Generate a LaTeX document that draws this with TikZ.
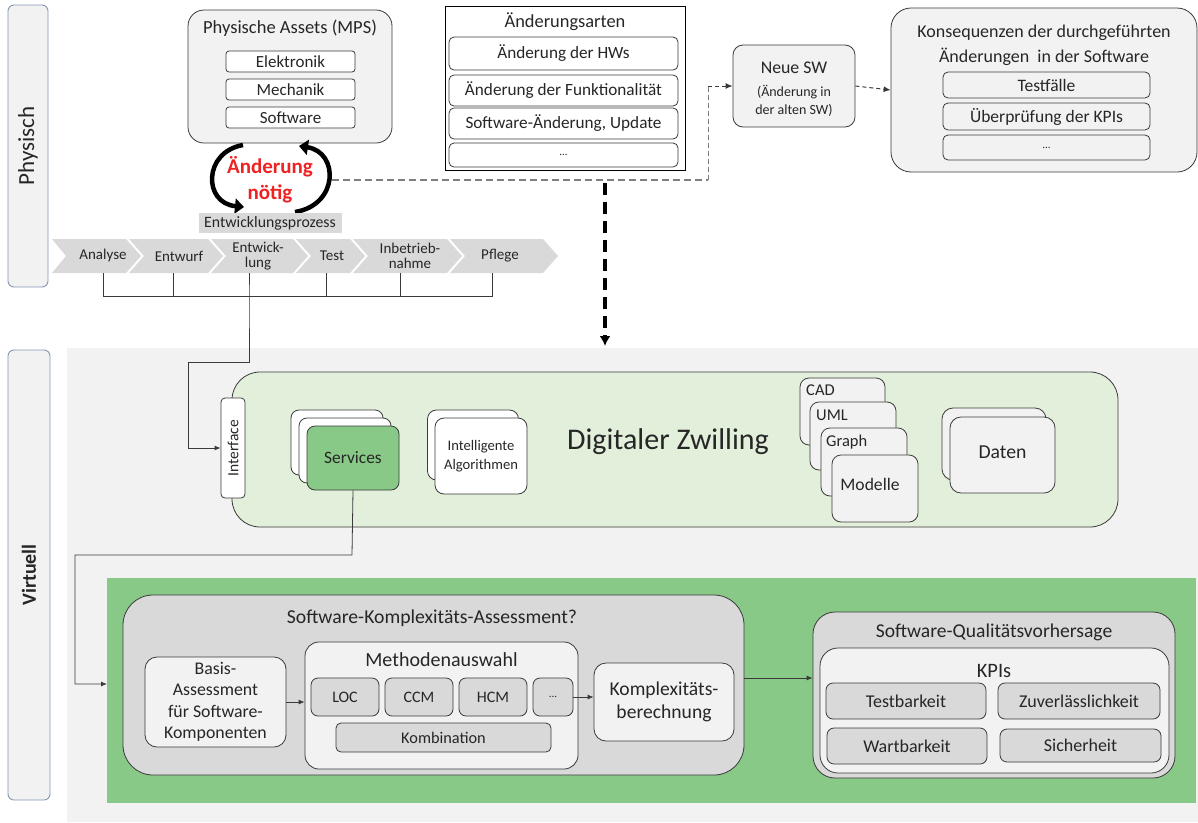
\documentclass[tikz,border=0pt]{standalone}
\usepackage{fontspec}
\setmainfont{Carlito}
\usetikzlibrary{arrows.meta,calc}
\definecolor{lg}{HTML}{F2F2F2}
\definecolor{mg}{HTML}{D9D9D9}
\definecolor{twin}{HTML}{E2EFDA}
\definecolor{grn}{RGB}{136,201,136}
\definecolor{bord}{HTML}{3A3A3A}
\definecolor{sideb}{HTML}{8497B0}
\definecolor{txt}{HTML}{262626}
\definecolor{redt}{HTML}{EE2222}
\definecolor{dgray}{HTML}{7F7F7F}
\newcommand{\fsz}[2]{\fontsize{#1}{#2}\selectfont}
\tikzset{
  box/.style={draw=bord, line width=0.8pt, rounded corners=#1, inner sep=0pt, align=center, text=txt},
  box/.default=4pt,
  side/.style={draw=sideb, line width=0.9pt, fill=lg, rounded corners=6pt, inner sep=0pt},
  lbl/.style={text=txt, inner sep=0pt, align=center},
  conn/.style={draw=bord, line width=0.8pt},
  arr/.style={conn, -{Latex[length=6pt,width=5pt]}},
  cyc/.style={line width=4.5pt, black, -{Triangle[length=9pt,width=15pt]}},
  chevfill/.style={fill=mg},
}
\begin{document}
\begin{tikzpicture}[x=1pt,y=-1pt]
\useasboundingbox (0,0) rectangle (1198,822);
% backgrounds
\fill[lg] (67,348) rectangle (1198,822);
\fill[grn] (107,578) rectangle (1196,803);
% side labels
\node[side, minimum width=40pt, minimum height=282pt] (phys) at (28,146) {};
\node[lbl, rotate=90, font=\fsz{23}{25}] at (phys) {Physisch};
\node[side, minimum width=42pt, minimum height=450pt] (virt) at (29,575) {};
\node[lbl, rotate=90, font=\fsz{20}{22}\bfseries] at (virt) {Virtuell};

% Physische Assets
\node[box=16pt, fill=lg, minimum width=204pt, minimum height=133pt] (pa) at (290,76.5) {};
\node[lbl, font=\fsz{18.5}{20}] (pat) at (290,28) {Physische Assets (MPS)};
\node[box=3pt, fill=white, minimum width=129pt, minimum height=21pt, font=\fsz{17}{18}] (elek) at (290.5,61.5) {Elektronik};
\node[box=3pt, fill=white, minimum width=129pt, minimum height=21pt, font=\fsz{17}{18}] (mech) at (290.5,89.5) {Mechanik};
\node[box=3pt, fill=white, minimum width=129pt, minimum height=21pt, font=\fsz{17}{18}] (soft) at (290.5,117.5) {Software};

% Aenderung noetig
\node[lbl, text=redt, font=\fsz{21}{23}\bfseries] (aen) at (270,180) {Änderung\\[3pt]nötig};
\coordinate (c1a) at (243,145);
\coordinate (c1b) at (244,207);
\coordinate (c2a) at (295,212);
\coordinate (c2b) at (299,146);
\draw[cyc] (c1a) .. controls (203,152) and (203,203) .. (c1b);
\draw[cyc] (c2a) .. controls (339,205) and (339,152) .. (c2b);
\node[lbl, fill=mg, minimum width=143pt, minimum height=20pt, font=\fsz{15.8}{17}] (ep) at (270,223) {Entwicklungsprozess};

% chevrons
\fill[chevfill] (52,239) -- (126,239) -- ++(15,17) -- ++(-15,17) -- (52,273) -- ++(14,-17) -- cycle;
\fill[chevfill] (129,239) -- (208,239) -- ++(15,17) -- ++(-15,17) -- (129,273) -- ++(15,-17) -- cycle;
\fill[chevfill] (211,239) -- (293,239) -- ++(15,17) -- ++(-15,17) -- (211,273) -- ++(15,-17) -- cycle;
\fill[chevfill] (296,239) -- (350,239) -- ++(15,17) -- ++(-15,17) -- (296,273) -- ++(15,-17) -- cycle;
\fill[chevfill] (353,239) -- (447,239) -- ++(15,17) -- ++(-15,17) -- (353,273) -- ++(15,-17) -- cycle;
\fill[chevfill] (450,239) -- (543,239) -- ++(15,17) -- ++(-15,17) -- (450,273) -- ++(15,-17) -- cycle;
\node[lbl, font=\fsz{15}{15}] (ch1) at (103,255) {Analyse};
\node[lbl, font=\fsz{15}{15}] (ch2) at (179,256) {Entwurf};
\node[lbl, font=\fsz{15}{15}] (ch3) at (258,256) {Entwick-\\lung};
\node[lbl, font=\fsz{15}{15}] (ch4) at (332,256) {Test};
\node[lbl, font=\fsz{15}{15}] (ch5) at (410,256) {Inbetrieb-\\nahme};
\node[lbl, font=\fsz{15}{15}] (ch6) at (500,256) {Pflege};
\coordinate (b1) at (103,273);
\coordinate (b2) at (173,273);
\coordinate (b3) at (249,273);
\coordinate (b4) at (326,273);
\coordinate (b5) at (400,273);
\coordinate (b6) at (492,273);
\coordinate (h1) at (103,296);
\coordinate (h6) at (492,296);
\draw[conn] (b1) -- (h1) -- (h6) -- (b6);
\draw[conn] (b2) -- (b2 |- h1);
\draw[conn] (b4) -- (b4 |- h1);
\draw[conn] (b5) -- (b5 |- h1);

% Aenderungsarten
\node[draw=black, line width=0.9pt, fill=white, minimum width=240pt, minimum height=164pt, inner sep=0pt] (aa) at (565,88) {};
\node[lbl, font=\fsz{18.4}{19}] (aat) at (565,22) {Änderungsarten};
\node[box=5pt, fill=white, minimum width=229pt, minimum height=33pt, font=\fsz{17.2}{18}] (hw) at (563.5,53.5) {Änderung der HWs};
\node[box=5pt, fill=white, minimum width=229pt, minimum height=31pt, font=\fsz{17.2}{18}] (fu) at (563.5,90.5) {Änderung der Funktionalität};
\node[box=5pt, fill=white, minimum width=229pt, minimum height=31pt, font=\fsz{17.2}{18}] (upd) at (563.5,123.5) {Software-Änderung, Update};
\node[box=5pt, fill=white, minimum width=229pt, minimum height=24pt, font=\fsz{11}{12}] (dots1) at (563.5,155) {...};

% Neue SW
\node[box=10pt, fill=lg, minimum width=122pt, minimum height=82pt] (nsw) at (794,86) {};
\node[lbl, font=\fsz{17.8}{19}] at (794,68) {Neue SW};
\node[lbl, font=\fsz{14}{18}] at (794,101) {(Änderung in\\der alten SW)};

% Konsequenzen
\node[box=20pt, fill=lg, minimum width=306pt, minimum height=164pt] (kon) at (1044,90) {};
\node[lbl, font=\fsz{18}{25}] at (1044,45) {Konsequenzen der durchgeführten\\Änderungen \ in der Software};
\node[box=5pt, fill=lg, minimum width=207pt, minimum height=26pt, font=\fsz{17.5}{18}] (tf) at (1046.5,85) {Testfälle};
\node[box=5pt, fill=lg, minimum width=207pt, minimum height=27pt, font=\fsz{17.5}{18}] (ue) at (1046.5,116.5) {Überprüfung der KPIs};
\node[box=5pt, fill=lg, minimum width=207pt, minimum height=25pt, font=\fsz{11}{12}] (dots2) at (1046.5,147.5) {...};

% dashed connectors top
\coordinate (d1) at (332,180);
\coordinate (d2) at (708,180);
\coordinate (d3) at (708,86);
\coordinate (dd) at (605,183);
\coordinate (de) at (605,346);
\draw[dgray, line width=2pt, dash pattern=on 7pt off 4pt] (d1) -- (d2);
\draw[dgray, line width=1pt, dash pattern=on 5pt off 3pt] (d2) -- (d3);
\draw[bord, line width=1pt, dash pattern=on 4pt off 3pt, -{Latex[length=7pt,width=6pt]}] (d3) -- (nsw.west);
\draw[bord, line width=1pt, dash pattern=on 4pt off 3pt, -{Latex[length=7pt,width=6pt]}] (nsw.east) -- (kon.west);
\draw[black, line width=3.2pt, dash pattern=on 12pt off 7pt, -{Latex[length=10pt,width=11pt]}] (dd) -- (de);

% Digital twin
\node[box=28pt, fill=twin, minimum width=886pt, minimum height=155pt] (dz) at (675,449.5) {};
\node[lbl, font=\fsz{30}{32}] (dzt) at (668,442) {Digitaler Zwilling};
\node[box=4pt, fill=white, minimum width=24pt, minimum height=100pt] (iface) at (233,448) {};
\node[lbl, rotate=90, font=\fsz{15.5}{15}] at (iface) {Interface};
% services
\node[box=8pt, fill=white, minimum width=92pt, minimum height=65pt] (sv1) at (337,442.5) {};
\node[box=8pt, fill=white, minimum width=92pt, minimum height=65pt] (sv2) at (345,450.5) {};
\node[box=8pt, fill=grn, minimum width=92pt, minimum height=64pt, font=\fsz{17.4}{19}] (sv) at (353,458) {Services};
% algorithms
\node[box=9pt, fill=white, minimum width=91pt, minimum height=70pt] (al1) at (473,445) {};
\node[box=9pt, fill=white, minimum width=92pt, minimum height=76pt, font=\fsz{14.6}{19}] (al) at (481,456) {Intelligente\\Algorithmen};
% models
\node[box=9pt, fill=lg, minimum width=85pt, minimum height=67pt] (cad) at (842.5,411.5) {};
\node[lbl, font=\fsz{16.5}{18}, anchor=west] at (806,390) {CAD};
\node[box=9pt, fill=lg, minimum width=86pt, minimum height=68pt] (uml) at (853,436) {};
\node[lbl, font=\fsz{16.5}{18}, anchor=west] at (816,415) {UML};
\node[box=9pt, fill=lg, minimum width=86pt, minimum height=68pt] (gra) at (864,462) {};
\node[lbl, font=\fsz{16.5}{18}, anchor=west] at (826,442) {Graph};
\node[box=9pt, fill=lg, minimum width=86pt, minimum height=67pt] (mod) at (875,488.5) {};
\node[lbl, font=\fsz{17.6}{19}] at (870,484) {Modelle};
% data
\node[box=11pt, fill=lg, minimum width=104pt, minimum height=72pt] (da1) at (994,444) {};
\node[box=11pt, fill=lg, minimum width=105pt, minimum height=76pt, font=\fsz{19.7}{21}] (da) at (1002.5,455) {\raisebox{6pt}{Daten}};

% connectors virtual
\coordinate (e1) at (249,362);
\coordinate (e2) at (188,362);
\coordinate (e3) at (188,448);
\draw[arr] (b3) -- (h1 -| b3) -- (e1) -- (e2) -- (e3) -- (iface.west);
\coordinate (s1) at (352,555);
\coordinate (s2) at (75,555);
\coordinate (s3) at (75,684);
\coordinate (gin) at (107,684);
\draw[arr] (sv.south) -- (s1) -- (s2) -- (s3) -- (gin);

% assessment
\node[box=30pt, fill=mg, minimum width=621pt, minimum height=180pt] (ska) at (433.5,685) {};
\node[lbl, font=\fsz{19.7}{21}] at (432,618) {Software-Komplexitäts-Assessment?};
\node[box=12pt, fill=lg, minimum width=141pt, minimum height=90pt, font=\fsz{17.8}{21.5}] (bas) at (215.5,702) {Basis-\\Assessment\\für Software-\\Komponenten};
\node[box=14pt, fill=lg, minimum width=273pt, minimum height=127pt] (me) at (441.5,705.5) {};
\node[lbl, font=\fsz{20}{22}] at (441.5,660) {Methodenauswahl};
\node[box=7pt, fill=mg, minimum width=68pt, minimum height=38pt, font=\fsz{16}{17}] (loc) at (345,697) {LOC};
\node[box=7pt, fill=mg, minimum width=68pt, minimum height=38pt, font=\fsz{16}{17}] (ccm) at (419,697) {CCM};
\node[box=7pt, fill=mg, minimum width=68pt, minimum height=38pt, font=\fsz{16}{17}] (hcm) at (493,697) {HCM};
\node[box=7pt, fill=mg, minimum width=40pt, minimum height=38pt, font=\fsz{11}{12}] (mdots) at (553,697) {...};
\node[box=5pt, fill=mg, minimum width=215pt, minimum height=29pt, font=\fsz{16.3}{17}] (kom) at (443.5,737.5) {Kombination};
\node[box=12pt, fill=lg, minimum width=140pt, minimum height=78pt, font=\fsz{19.6}{23}] (kb) at (664,702) {Komplexitäts-\\berechnung};
\draw[arr] (bas.east) -- (bas.east -| me.west);
\draw[arr] (mdots.east) -- (mdots.east -| kb.west);

% quality
\node[box=22pt, fill=mg, minimum width=362pt, minimum height=166pt] (sq) at (994,695) {};
\node[lbl, font=\fsz{19.6}{21}] at (994,632) {Software-Qualitätsvorhersage};
\node[box=18pt, fill=lg, minimum width=349pt, minimum height=125pt] (kpi) at (994.5,710.5) {};
\node[lbl, font=\fsz{20.5}{22}] at (994,671) {KPIs};
\node[box=7pt, fill=mg, minimum width=160pt, minimum height=36pt, font=\fsz{18}{19}] (tb) at (906,701) {Testbarkeit};
\node[box=7pt, fill=mg, minimum width=162pt, minimum height=36pt, font=\fsz{18}{19}] (zv) at (1079,701) {Zuverlässlichkeit};
\node[box=7pt, fill=mg, minimum width=160pt, minimum height=36pt, font=\fsz{18}{19}] (wb) at (907,746) {Wartbarkeit};
\node[box=7pt, fill=mg, minimum width=161pt, minimum height=33pt, font=\fsz{18}{19}] (si) at (1080.5,745.5) {Sicherheit};
\coordinate (q1) at (744,678);
\draw[arr] (q1) -- (sq.west |- q1);
\end{tikzpicture}
\end{document}
